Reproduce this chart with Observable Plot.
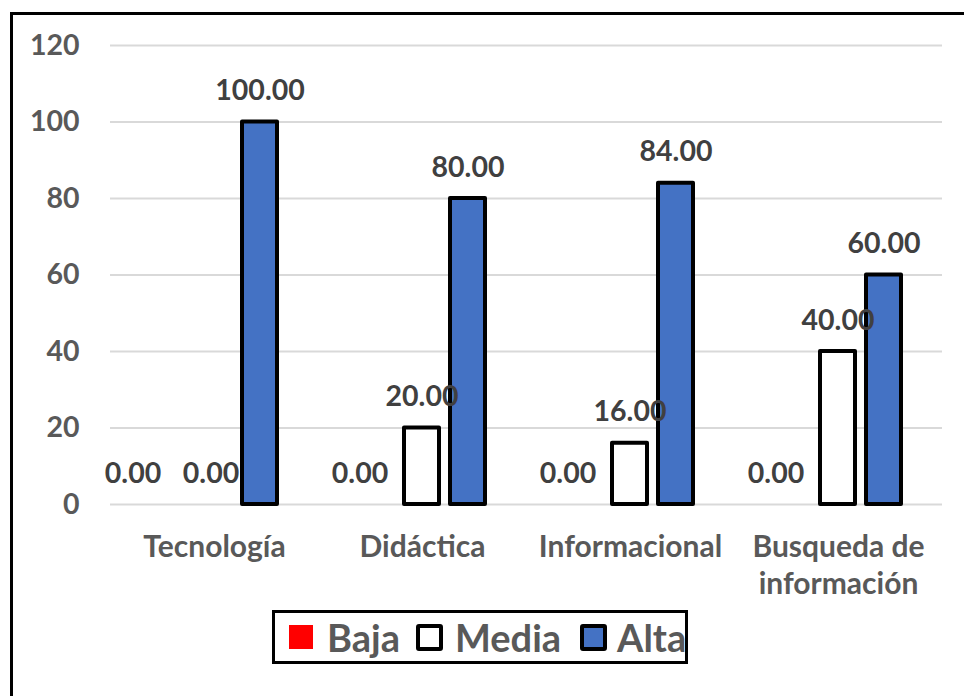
<!DOCTYPE html>
<html>
<head>
<meta charset="utf-8">
<script src="https://cdn.jsdelivr.net/npm/d3@7"></script>
<script src="https://cdn.jsdelivr.net/npm/@observablehq/plot@0.6"></script>
<style>
  html, body { margin: 0; padding: 0; background: #fff; overflow: hidden; width: 964px; height: 696px; }
  #frame { position: absolute; left: 10px; top: 12px; width: 1000px; height: 800px; border: 3px solid #000; box-sizing: border-box; }
  #chart { position: absolute; left: 0; top: 0; }
  #legend { position: absolute; left: 272px; top: 610px; width: 416px; height: 54px; border: 3px solid #000; box-sizing: border-box; background: #fff;
    display: flex; align-items: center; font-family: Lato, sans-serif; font-weight: bold; font-size: 38px; color: #595959; white-space: nowrap; }
  .sw { box-sizing: border-box; flex: none; }
  .lab { line-height: 1; }
</style>
</head>
<body>
<div id="frame"></div>
<div id="chart"></div>
<div id="legend"></div>
<script>
const categories = ["Tecnología", "Didáctica", "Informacional", "Busqueda de información"];
const levels = ["Baja", "Media", "Alta"];
const baja = [0, 0, 0, 0];
const media = [0, 20, 16, 40];
const alta = [100, 80, 84, 60];
const yTicks = [0, 20, 40, 60, 80, 100, 120];
const levelColors = ["#FF0000", "#FFFFFF", "#4472C4"];

const series = [baja, media, alta];
const rows = [];
categories.forEach((c, i) => levels.forEach((l, j) => rows.push({category: c, level: l, value: series[j][i], mediaZero: media[i] === 0})));

const fmt = d => d.toFixed(2);
const catLabel = d => d === "Busqueda de información" ? "Busqueda de\ninformación" : d;
const labelOpts = {fx: "category", x: "level", y: "value", text: d => fmt(d.value), dy: -31, fill: "#404040", fontSize: 28.5, fontWeight: "bold"};

const chart = Plot.plot({
  width: 964,
  height: 620,
  marginTop: 45,
  marginBottom: 116,
  marginLeft: 108,
  marginRight: 21,
  style: {fontFamily: "Lato, sans-serif", fontWeight: "bold", fontSize: "28px", background: "transparent"},
  fx: {domain: categories, paddingInner: 0, paddingOuter: 0, axis: null},
  x: {domain: levels, paddingInner: 0.234, paddingOuter: 0.838, axis: null},
  y: {domain: [0, 120], axis: null},
  color: {domain: levels, range: levelColors},
  marks: [
    Plot.gridY(yTicks, {stroke: "#d9d9d9", strokeOpacity: 1, strokeWidth: 2}),
    Plot.axisY(yTicks, {label: null, tickSize: 0, tickPadding: 31, fill: "#595959", fontSize: 28.5}),
    Plot.axisFx({anchor: "bottom", label: null, tickSize: 0, tickPadding: 26, fill: "#595959", fontSize: 30, lineHeight: 1.24, tickFormat: catLabel}),
    Plot.barY(rows.filter(d => d.value > 0), {fx: "category", x: "level", y: "value", fill: "level", stroke: "#000", strokeWidth: 4, strokeLinejoin: "round"}),
    Plot.text(rows.filter(d => d.value > 0), labelOpts),
    Plot.text(rows.filter(d => d.value === 0 && d.level === "Media"), {...labelOpts, dx: -3}),
    Plot.text(rows.filter(d => d.value === 0 && d.level === "Baja" && !d.mediaZero), {...labelOpts, dx: -16}),
    Plot.text(rows.filter(d => d.value === 0 && d.level === "Baja" && d.mediaZero), {...labelOpts, dx: -35})
  ]
});
document.getElementById("chart").appendChild(chart);

// Legend
const legend = document.getElementById("legend");
const swStyles = [
  {bg: levelColors[0], border: "none", w: 24, ml: 14, mr: 14},
  {bg: levelColors[1], border: "4px solid #000", w: 27, ml: 16, mr: 12},
  {bg: levelColors[2], border: "4px solid #000", w: 27, ml: 19, mr: 10}
];
levels.forEach((l, i) => {
  const s = swStyles[i];
  const sw = document.createElement("div");
  sw.className = "sw";
  sw.style.width = s.w + "px";
  sw.style.height = s.w + "px";
  sw.style.background = s.bg;
  sw.style.border = s.border;
  sw.style.borderRadius = i ? "3px" : "0";
  sw.style.marginLeft = s.ml + "px";
  sw.style.marginRight = s.mr + "px";
  legend.appendChild(sw);
  const t = document.createElement("span");
  t.className = "lab";
  t.textContent = l;
  legend.appendChild(t);
});
</script>
</body>
</html>
